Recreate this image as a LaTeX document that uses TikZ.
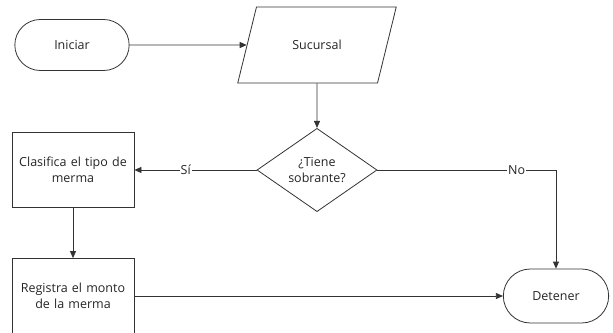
\documentclass[tikz,border=0pt]{standalone}
\usepackage{fontspec}
\setmainfont{Open Sans}
\usetikzlibrary{shapes.geometric,shapes.misc,arrows.meta}

\begin{document}
\begin{tikzpicture}[x=1pt,y=-1pt,
        line width=0.8pt,
        every node/.append style={font=\fontsize{12.5}{16.5}\selectfont, text=black!85, align=center},
        terminal/.style={draw=black!80, rounded rectangle, minimum width=121pt, minimum height=51pt},
        entrada/.style={draw=black!80, trapezium, trapezium left angle=62, trapezium right angle=118,
            trapezium stretches=true, minimum width=159pt, minimum height=76pt},
        decision/.style={draw=black!80, diamond, inner sep=0pt, minimum width=120pt, minimum height=75pt},
        proceso/.style={draw=black!80, rectangle, inner sep=0pt, minimum width=122pt, minimum height=75pt, text width=120pt},
        etiqueta/.style={fill=white, inner sep=1pt},
        flecha/.style={draw=black!80, -{Triangle[length=7pt,width=6pt]}}]
    \fill[white] (0,0) rectangle (613,332);
    \useasboundingbox (0,0) rectangle (613,332);
    % nodos
    \node[terminal] (ini) at (72,45) {Iniciar};
    \node[entrada] (suc) at (317,45) {Sucursal};
    \node[decision] (dec) at (317,170) {¿Tiene\\sobrante?};
    \node[proceso] (cla) at (73,170) {Clasifica el tipo de\\merma};
    \node[proceso] (reg) at (73,296) {Registra el monto\\de la merma};
    \node[terminal, minimum width=112pt, minimum height=54pt] (det) at (556,296) {Detener};
    % conectores
    \draw[flecha] (ini) -- (suc);
    \draw[flecha] (suc) -- (dec);
    \draw[flecha] (dec.west) -- node[etiqueta, pos=0.58] {Sí} (cla.east);
    \draw[flecha] (dec.east) -| node[etiqueta, pos=0.39] {No} (det.north);
    \draw[flecha] (cla) -- (reg);
    \draw[flecha] (reg.east) -- (det.west);
\end{tikzpicture}
\end{document}
